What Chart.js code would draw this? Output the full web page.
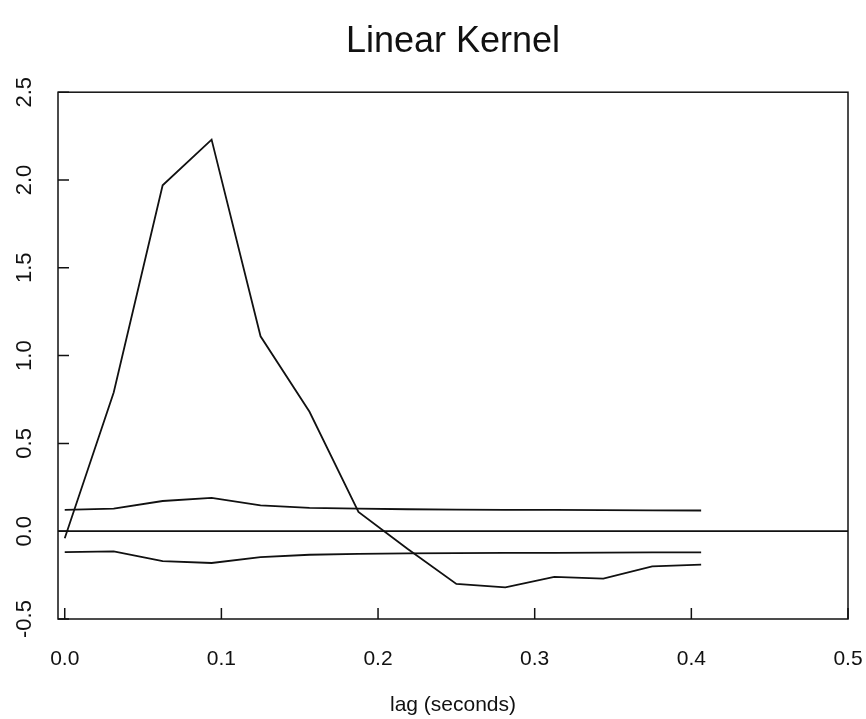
<!DOCTYPE html>
<html>
<head>
<meta charset="utf-8">
<title>Linear Kernel</title>
<script src="https://cdn.jsdelivr.net/npm/chart.js@4.4.1/dist/chart.umd.min.js"></script>
<style>
  html, body { margin: 0; padding: 0; background: #fff; }
  #wrap { width: 866px; height: 719px; }
</style>
</head>
<body>
<div id="wrap"><canvas id="myChart" width="866" height="719"></canvas></div>
<script>
// lag in seconds (step 1/32 s)
const lags = [0, 0.03125, 0.0625, 0.09375, 0.125, 0.15625, 0.1875, 0.21875, 0.25, 0.28125, 0.3125, 0.34375, 0.375, 0.40625];
// estimated kernel and the two bands around zero
const kernel = [-0.04, 0.79, 1.97, 2.23, 1.11, 0.68, 0.11, -0.10, -0.30, -0.32, -0.26, -0.27, -0.20, -0.19];
const upperBand = [0.122, 0.128, 0.172, 0.190, 0.147, 0.133, 0.128, 0.125, 0.123, 0.122, 0.121, 0.120, 0.119, 0.118];
const lowerBand = [-0.119, -0.115, -0.170, -0.181, -0.148, -0.134, -0.129, -0.126, -0.125, -0.124, -0.123, -0.122, -0.121, -0.121];

// axes
const xTicks = [0, 0.1, 0.2, 0.3, 0.4, 0.5];
const yTicks = [-0.5, 0, 0.5, 1, 1.5, 2, 2.5];
const xMin = -0.0043, xMax = 0.5;
const yMin = -0.5, yMax = 2.5;

const ink = '#111';
const fontFam = '"Liberation Sans", Arial, Helvetica, sans-serif';

function toPoints(xs, ys) {
    return xs.map((x, i) => ({x: x, y: ys[i]}));
}

// box round the plot, inward tick marks, vertical y labels
const framePlugin = {
    id: 'frame',
    afterDraw(chart) {
        const ctx = chart.ctx;
        const area = chart.chartArea;
        const xs = chart.scales.x;
        const ys = chart.scales.y;
        ctx.save();
        ctx.strokeStyle = ink;
        ctx.lineWidth = 1.5;
        ctx.strokeRect(area.left, area.top, area.right - area.left, area.bottom - area.top);

        // ticks pointing into the plot
        ctx.beginPath();
        xTicks.forEach(v => {
            let px = xs.getPixelForValue(v);
            ctx.moveTo(px, area.bottom);
            ctx.lineTo(px, area.bottom - 11);
        });
        yTicks.forEach(v => {
            let py = ys.getPixelForValue(v);
            ctx.moveTo(area.left, py);
            ctx.lineTo(area.left + 11, py);
        });
        ctx.stroke();

        // y labels, reading upwards
        ctx.fillStyle = ink;
        ctx.font = '22px ' + fontFam;
        ctx.textAlign = 'center';
        ctx.textBaseline = 'middle';
        yTicks.forEach(v => {
            let py = ys.getPixelForValue(v);
            ctx.save();
            ctx.translate(25, py);
            ctx.rotate(-Math.PI / 2);
            ctx.fillText(v.toFixed(1), 0, 0);
            ctx.restore();
        });
        ctx.restore();
    }
};

let lineStyle = {
    borderColor: ink,
    borderWidth: 1.8,
    pointRadius: 0,
    fill: false,
    tension: 0
};

new Chart("myChart", {
    type: 'line',
    data: {
        datasets: [
            Object.assign({label: 'kernel', data: toPoints(lags, kernel)}, lineStyle),
            Object.assign({label: 'upper', data: toPoints(lags, upperBand)}, lineStyle),
            Object.assign({label: 'lower', data: toPoints(lags, lowerBand)}, lineStyle),
            Object.assign({label: 'zero', data: [{x: xMin, y: 0}, {x: xMax, y: 0}]}, lineStyle)
        ]
    },
    options: {
        responsive: false,
        animation: false,
        layout: {padding: {left: 0, right: 18, top: 0, bottom: 0}},
        plugins: {
            legend: {display: false},
            tooltip: {enabled: false},
            title: {
                display: true,
                text: 'Linear Kernel',
                fullSize: false,
                color: ink,
                font: {family: fontFam, size: 36, weight: 'normal'},
                padding: {top: 20, bottom: 29}
            }
        },
        scales: {
            x: {
                type: 'linear',
                min: xMin,
                max: xMax,
                afterBuildTicks: s => { s.ticks = xTicks.map(v => ({value: v})); },
                afterFit: s => { s.height = 100; },
                // tick marks are drawn by the frame plugin; this only spaces the labels
                grid: {display: false, drawTicks: true, tickLength: 28},
                border: {display: false},
                ticks: {
                    padding: 0,
                    color: ink,
                    font: {family: fontFam, size: 21},
                    maxRotation: 0,
                    autoSkip: false,
                    callback: v => v.toFixed(1)
                },
                title: {
                    display: true,
                    text: 'lag (seconds)',
                    color: ink,
                    font: {family: fontFam, size: 21},
                    padding: {top: 0, bottom: 1}
                }
            },
            y: {
                min: yMin,
                max: yMax,
                afterFit: s => { s.width = 58; },
                grid: {display: false, drawTicks: false},
                border: {display: false},
                ticks: {display: false}
            }
        }
    },
    plugins: [framePlugin]
});
</script>
</body>
</html>
